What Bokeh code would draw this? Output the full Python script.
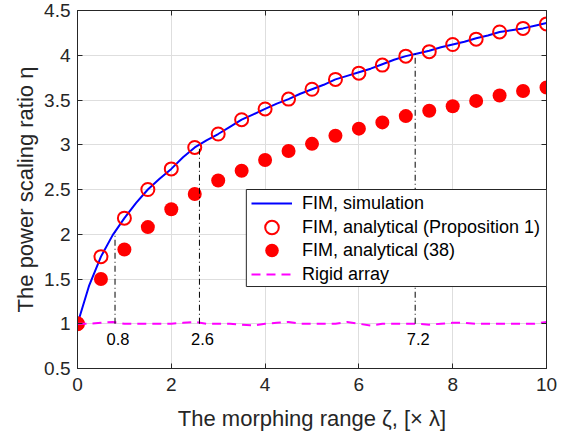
from bokeh.plotting import figure
from bokeh.models import (Range1d, FixedTicker, LinearAxis, Legend, LegendItem,
                          ColumnDataSource, BoxAnnotation)
from bokeh.core.properties import value
from bokeh.embed import file_html
from bokeh.resources import INLINE

# ---------------- data ----------------
sim_x = [0.0, 0.25, 0.5, 0.75, 1.0, 1.25, 1.5, 1.75, 2.0, 2.25, 2.5, 2.75, 3.0, 3.25,
         3.5, 3.75, 4.0, 4.25, 4.5, 4.75, 5.0, 5.25, 5.5, 5.75, 6.0, 6.25, 6.5, 6.75,
         7.0, 7.25, 7.5, 7.75, 8.0, 8.25, 8.5, 8.75, 9.0, 9.25, 9.5, 9.75, 10.0]
fim_sim = [1.00, 1.43, 1.75, 1.99, 2.18, 2.35, 2.50, 2.62, 2.73, 2.86, 2.97, 3.05, 3.12, 3.20,
           3.28, 3.34, 3.40, 3.46, 3.51, 3.57, 3.62, 3.67, 3.73, 3.77, 3.81, 3.85, 3.90, 3.95,
           3.99, 4.02, 4.05, 4.09, 4.12, 4.15, 4.19, 4.22, 4.26, 4.28, 4.30, 4.33, 4.36]
rigid = [1.00, 1.00, 1.01, 1.02, 1.00, 1.00, 1.00, 1.00, 1.00, 1.01, 1.02, 1.00, 1.00, 1.00,
         0.99, 0.98, 1.00, 1.01, 1.02, 1.00, 1.00, 1.00, 1.00, 1.02, 1.00, 0.98, 1.00, 1.00,
         1.00, 1.00, 0.99, 1.00, 1.01, 1.01, 1.00, 1.00, 1.00, 1.00, 1.00, 1.00, 1.02]

ana_x = [0.0, 0.5, 1.0, 1.5, 2.0, 2.5, 3.0, 3.5, 4.0, 4.5, 5.0, 5.5, 6.0, 6.5, 7.0,
         7.5, 8.0, 8.5, 9.0, 9.5, 10.0]
fim_prop1 = [1.00, 1.75, 2.18, 2.50, 2.73, 2.97, 3.12, 3.28, 3.40, 3.51, 3.62, 3.73, 3.80,
             3.89, 3.99, 4.04, 4.12, 4.18, 4.26, 4.30, 4.35]
fim_38 = [1.00, 1.50, 1.83, 2.08, 2.28, 2.45, 2.60, 2.71, 2.83, 2.93, 3.01, 3.10, 3.18,
          3.25, 3.32, 3.38, 3.43, 3.49, 3.55, 3.60, 3.64]

mark_x = [0.8, 2.6, 7.2]
mark_top = [2.02, 2.96, 4.02]
mark_base = [1.0, 1.0, 1.0]
mark_label_y = [0.83, 0.83, 0.83]
mark_labels = ["0.8", "2.6", "7.2"]

x_ticks = [0, 2, 4, 6, 8, 10]
y_ticks = [0.5, 1.0, 1.5, 2.0, 2.5, 3.0, 3.5, 4.0, 4.5]
y_tick_labels = ["0.5", "1", "1.5", "2", "2.5", "3", "3.5", "4", "4.5"]

series_labels = ["FIM, simulation", "FIM, analytical (Proposition 1)",
                 "FIM, analytical (38)", "Rigid array"]

FONT = "Liberation Sans"
AX = "#262626"

p = figure(width=571, height=434, output_backend="svg", toolbar_location=None,
           x_range=Range1d(0, 10), y_range=Range1d(0.5, 4.5),
           min_border_left=77, min_border_right=25, min_border_top=10, min_border_bottom=66,
           background_fill_color="white", border_fill_color="white")
p.outline_line_color = AX
p.outline_line_width = 1

# grid
p.xgrid.ticker = FixedTicker(ticks=x_ticks)
p.ygrid.ticker = FixedTicker(ticks=y_ticks)
for g in (p.xgrid, p.ygrid):
    g.grid_line_color = "#DEDEDE"
    g.grid_line_width = 1

def style_axis(ax, ticks, show_labels):
    ax.ticker = FixedTicker(ticks=ticks)
    ax.axis_line_color = AX
    ax.major_tick_line_color = AX
    ax.major_tick_in = 5
    ax.major_tick_out = 0
    ax.minor_tick_line_color = None
    ax.major_label_text_font = FONT
    ax.major_label_text_color = AX
    ax.axis_label_text_font = FONT
    ax.axis_label_text_color = AX
    ax.axis_label_text_font_style = "normal"
    if not show_labels:
        ax.major_label_overrides = {t: "" for t in ticks}
        ax.major_label_text_font_size = "1px"
        ax.major_label_standoff = 0
        ax.axis_label = None

xa = p.xaxis[0]
ya = p.yaxis[0]
style_axis(xa, x_ticks, True)
style_axis(ya, y_ticks, True)
xa.major_label_text_font_size = "19px"
ya.major_label_text_font_size = "19px"
ya.major_label_overrides = {t: s for t, s in zip(y_ticks, y_tick_labels)}
xa.major_label_standoff = 9
ya.major_label_standoff = 7
xa.axis_label = "The morphing range ζ, [× λ]"
ya.axis_label = "The power scaling ratio η"
xa.axis_label_text_font_size = "22px"
ya.axis_label_text_font_size = "22px"
xa.axis_label_standoff = 12
ya.axis_label_standoff = 3

top_ax = LinearAxis()
right_ax = LinearAxis()
style_axis(top_ax, x_ticks, False)
style_axis(right_ax, y_ticks, False)
p.add_layout(top_ax, "above")
p.add_layout(right_ax, "right")

# glyphs
src_sim = ColumnDataSource(dict(x=sim_x, y=fim_sim, r=rigid))
src_ana = ColumnDataSource(dict(x=ana_x, a=fim_prop1, b=fim_38))

r_sim = p.line("x", "y", source=src_sim, line_color="#0000FF", line_width=2)
r_open = p.scatter("x", "a", source=src_ana, marker="circle", size=13,
                   fill_color=None, line_color="#FF0000", line_width=2)
r_fill = p.scatter("x", "b", source=src_ana, marker="circle", size=14,
                   fill_color="#FF0000", line_color=None)
r_rigid = p.line("x", "r", source=src_sim, line_color="#FF00FF", line_width=2,
                 line_dash="9 6")

p.segment(x0=mark_x, y0=mark_base, x1=mark_x, y1=mark_top,
          line_color="black", line_width=1, line_dash="6 3 1 3")
p.text(x=mark_x, y=mark_label_y, text=mark_labels, text_font=value(FONT),
       text_font_size=value("16.5px"), text_color="black", text_align="center",
       text_baseline="middle", x_offset=3)

# legend frame (white box with border) drawn beneath the legend entries
legend_box = BoxAnnotation(left=3.60, right=10.0, bottom=1.416, top=2.50,
                           fill_color="white", fill_alpha=1.0,
                           line_color=AX, line_width=1, line_alpha=1.0)
p.add_layout(legend_box)

# one legend per entry so rows can sit closer than the marker box height
row_offsets = [148, 124, 101, 77]
for lab, rend, yoff in zip(series_labels, [r_sim, r_open, r_fill, r_rigid], row_offsets):
    lg = Legend(items=[LegendItem(label=lab, renderers=[rend])], location=(174, yoff))
    lg.label_text_font = FONT
    lg.label_text_font_size = "18px"
    lg.label_text_color = "black"
    lg.glyph_width = 41
    lg.glyph_height = 34
    lg.label_height = 34
    lg.label_standoff = 10
    lg.spacing = 0
    lg.padding = 0
    lg.margin = 0
    lg.border_line_color = None
    lg.background_fill_alpha = 0
    p.add_layout(lg)

open("out.html", "w").write(file_html(p, INLINE))
